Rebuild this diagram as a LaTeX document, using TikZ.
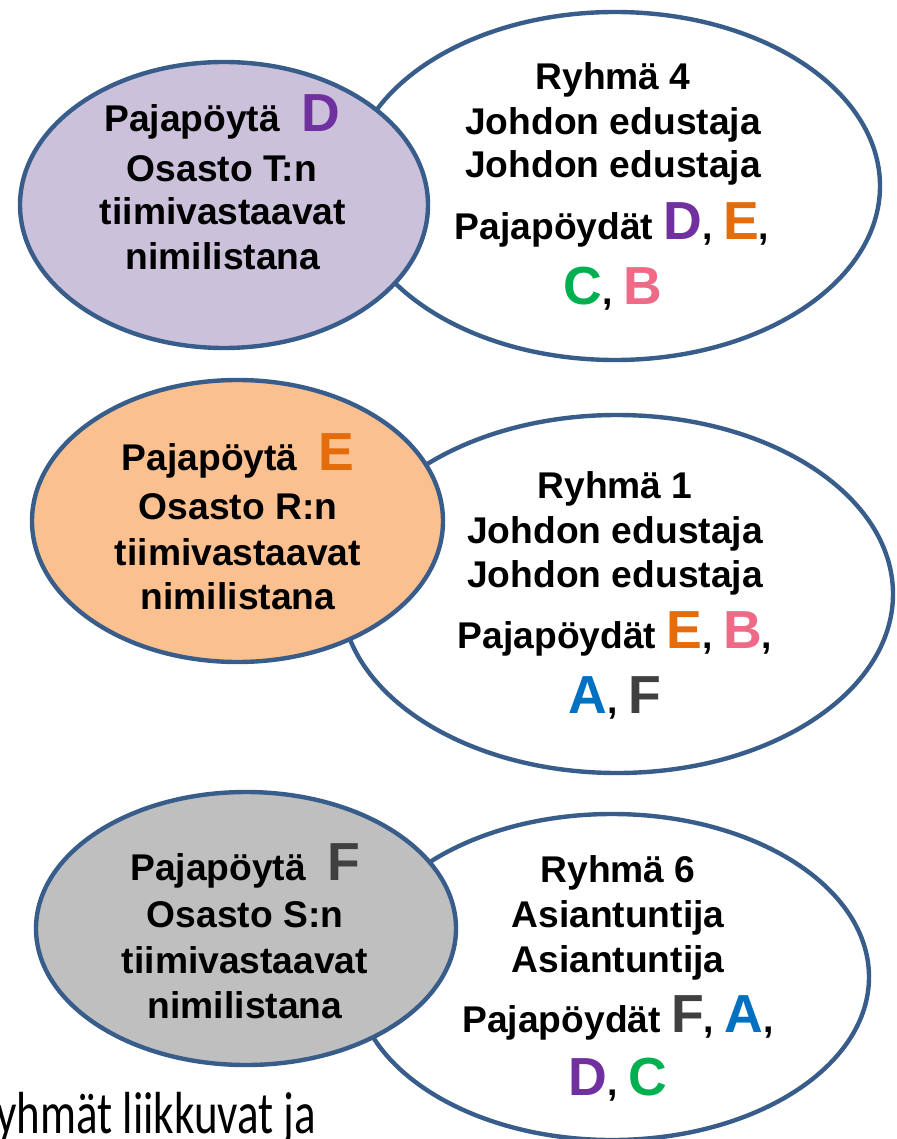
\documentclass[tikz,border=0pt]{standalone}
\usepackage{fontspec}
\setmainfont{Liberation Sans}
\newfontfamily\slidefont{Carlito}
\usetikzlibrary{shapes.geometric}
\definecolor{rim}{HTML}{385D8A}
\definecolor{fillD}{HTML}{CCC1DA}
\definecolor{fillE}{HTML}{FAC090}
\definecolor{fillF}{HTML}{BFBFBF}
\definecolor{tabA}{HTML}{0070C0}
\definecolor{tabB}{HTML}{EF6A86}
\definecolor{tabC}{HTML}{00B050}
\definecolor{tabD}{HTML}{7030A0}
\definecolor{tabE}{HTML}{E46C0A}
\definecolor{tabF}{HTML}{404040}
\newcommand{\ptab}[2]{{\fontsize{26.8}{30}\selectfont\color{#1}#2}}

\begin{document}
\begin{tikzpicture}[x=0.5pt,y=-0.5pt,
  disc/.style={draw=rim,line width=2.2pt,ellipse,inner sep=0pt},
  rowtext/.style={anchor=base,inner sep=0pt,font=\fontsize{18.6}{22}\selectfont\bfseries}]
\useasboundingbox (0,0) rectangle (896,1139);
\node[disc,fill=white,minimum width=265pt,minimum height=174pt] (grp4) at (615,186) {};
\node[disc,fill=fillD,minimum width=204pt,minimum height=143pt] (potD) at (224,205) {};
\node[rowtext] (grp4a) at (613,90) {Ryhmä 4};
\node[rowtext] (grp4b) at (613,135) {Johdon edustaja};
\node[rowtext] (grp4c) at (613,178) {Johdon edustaja};
\node[rowtext] (grp4d) at (612,240) {Pajapöydät \ptab{tabD}{D}, \ptab{tabE}{E},};
\node[rowtext] (grp4e) at (613,304) {\ptab{tabC}{C}, \ptab{tabB}{B}};
\node[rowtext] (potDa) at (222,132) {Pajapöytä\hspace{10.5pt}\ptab{tabD}{D}};
\node[rowtext] (potDb) at (222,182) {Osasto T:n};
\node[rowtext] (potDc) at (223,225) {tiimivastaavat};
\node[rowtext] (potDd) at (223,270) {nimilistana};
\node[disc,fill=white,minimum width=276pt,minimum height=179pt] (grp1) at (617,594) {};
\node[disc,fill=fillE,minimum width=205.5pt,minimum height=141pt] (potE) at (237.5,521) {};
\node[rowtext] (grp1a) at (615,498) {Ryhmä 1};
\node[rowtext] (grp1b) at (615,543) {Johdon edustaja};
\node[rowtext] (grp1c) at (615,587) {Johdon edustaja};
\node[rowtext] (grp1d) at (615,648) {Pajapöydät \ptab{tabE}{E}, \ptab{tabB}{B},};
\node[rowtext] (grp1e) at (615,713) {\ptab{tabA}{A}, \ptab{tabF}{F}};
\node[rowtext] (potEa) at (238,470) {Pajapöytä\hspace{10.5pt}\ptab{tabE}{E}};
\node[rowtext] (potEb) at (238,519) {Osasto R:n};
\node[rowtext] (potEc) at (238,565) {tiimivastaavat};
\node[rowtext] (potEd) at (238,609) {nimilistana};
\node[disc,fill=white,minimum width=257pt,minimum height=163pt] (grp6) at (612,977) {};
\node[disc,fill=fillF,minimum width=210pt,minimum height=136.5pt] (potF) at (246,928.5) {};
\node[rowtext] (grp6a) at (618,882) {Ryhmä 6};
\node[rowtext] (grp6b) at (618,927) {Asiantuntija};
\node[rowtext] (grp6c) at (618,972) {Asiantuntija};
\node[rowtext] (grp6d) at (618,1032) {Pajapöydät \ptab{tabF}{F}, \ptab{tabA}{A},};
\node[rowtext] (grp6e) at (618,1095) {\ptab{tabD}{D}, \ptab{tabC}{C}};
\node[rowtext] (potFa) at (245,880) {Pajapöytä\hspace{10.5pt}\ptab{tabF}{F}};
\node[rowtext] (potFb) at (245,927) {Osasto S:n};
\node[rowtext] (potFc) at (245,973) {tiimivastaavat};
\node[rowtext] (potFd) at (245,1018) {nimilistana};
\node[anchor=base west,inner sep=0pt,font=\slidefont\fontsize{22.5}{27}\selectfont] (note) at (-4,1133) {\scalebox{1}[1.32]{yhmät liikkuvat ja}};
\end{tikzpicture}
\end{document}
